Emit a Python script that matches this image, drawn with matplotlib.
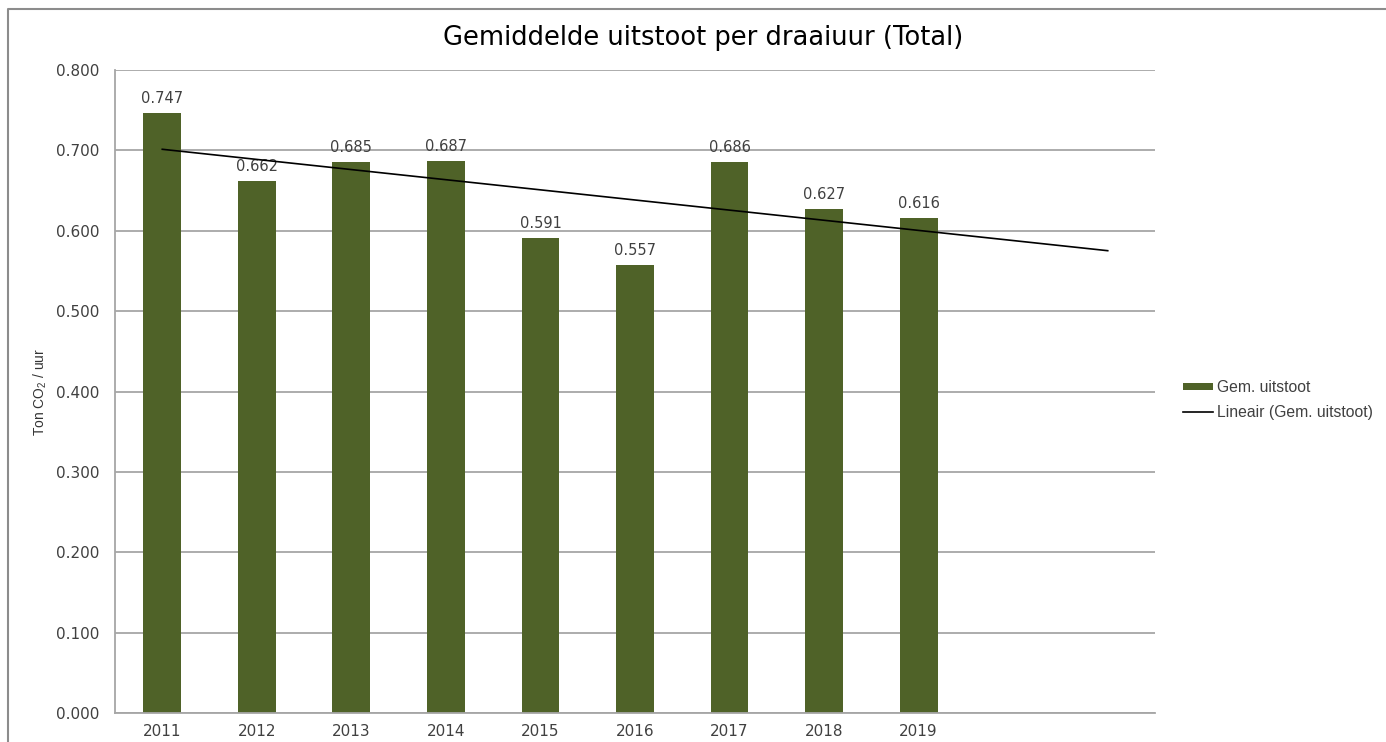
import numpy as np
import matplotlib
matplotlib.use("Agg")
import matplotlib.pyplot as plt
from matplotlib.lines import Line2D

plt.rcParams['font.family'] = ['DejaVu Sans']

# data
years = ["2011", "2012", "2013", "2014", "2015", "2016", "2017", "2018", "2019", "", ""]
values = [0.747, 0.662, 0.685, 0.687, 0.591, 0.557, 0.686, 0.627, 0.616]

BAR_COLOR = "#4F6228"
GRID = "#A6A6A6"
TXT = "#404040"
ARIAL = ['Liberation Sans', 'DejaVu Sans']

fig = plt.figure(figsize=(13.86, 7.42), dpi=100)
ax = fig.add_axes([115 / 1386, 29 / 742, 1040 / 1386, 643 / 742])

x = np.arange(len(years))
bars = ax.bar(x[:len(values)], values, width=0.40, color=BAR_COLOR,
              label="Gem. uitstoot", zorder=2)
ax.bar_label(bars, labels=["%.3f" % v for v in values], padding=5,
             fontsize=10.5, color=TXT)

# linear trend, forecast two periods forward
fit = np.polyfit(np.arange(len(values)), values, 1)
tx = np.array([0, len(years) - 1])
ax.plot(tx, np.polyval(fit, tx), color="black", lw=1.2,
        label="Lineair (Gem. uitstoot)", zorder=3)

ax.set_xlim(-0.5, len(years) - 0.5)
ax.set_ylim(0, 0.8)
ax.set_yticks(np.arange(0, 0.81, 0.1))
ax.set_yticklabels(["%.3f" % t for t in np.arange(0, 0.81, 0.1)])
ax.set_xticks(x)
ax.set_xticklabels(years)
ax.tick_params(axis="both", length=0, labelsize=11, colors=TXT)
ax.tick_params(axis="y", pad=11)
ax.tick_params(axis="x", pad=8)

ax.grid(True, axis="y", color=GRID, lw=1.3, zorder=0)
ax.set_axisbelow(True)
for s in ["top", "right"]:
    ax.spines[s].set_visible(False)
for s in ["left", "bottom"]:
    ax.spines[s].set_color(GRID)
    ax.spines[s].set_linewidth(1.3)

ax.set_ylabel(r"Ton CO$_{\mathregular{2}}$ / uur", fontsize=10, color="#333333",
              family=ARIAL)
ax.yaxis.set_label_coords(-66 / 1040, 0.5)

fig.text(703 / 1386, 1 - 38 / 742, "Gemiddelde uitstoot per draaiuur (Total)",
         ha="center", va="center", fontsize=18.5, color="black")

handles, labels = ax.get_legend_handles_labels()
fig.legend(handles[::-1], labels[::-1], loc="center left",
           bbox_to_anchor=(1169 / 1386, 1 - 400 / 742),
           frameon=False, handlelength=1.9, handleheight=0.35,
           labelspacing=0.65, handletextpad=0.25, labelcolor=TXT,
           prop={'family': ARIAL, 'size': 11.3})

# outer chart-area border
fig.add_artist(Line2D([8 / 1386, 8 / 1386, 1.0], [0.0, 1 - 9 / 742, 1 - 9 / 742],
                      transform=fig.transFigure, color="#8C8C8C", lw=1.5))

fig.savefig("out.png", dpi=100)
